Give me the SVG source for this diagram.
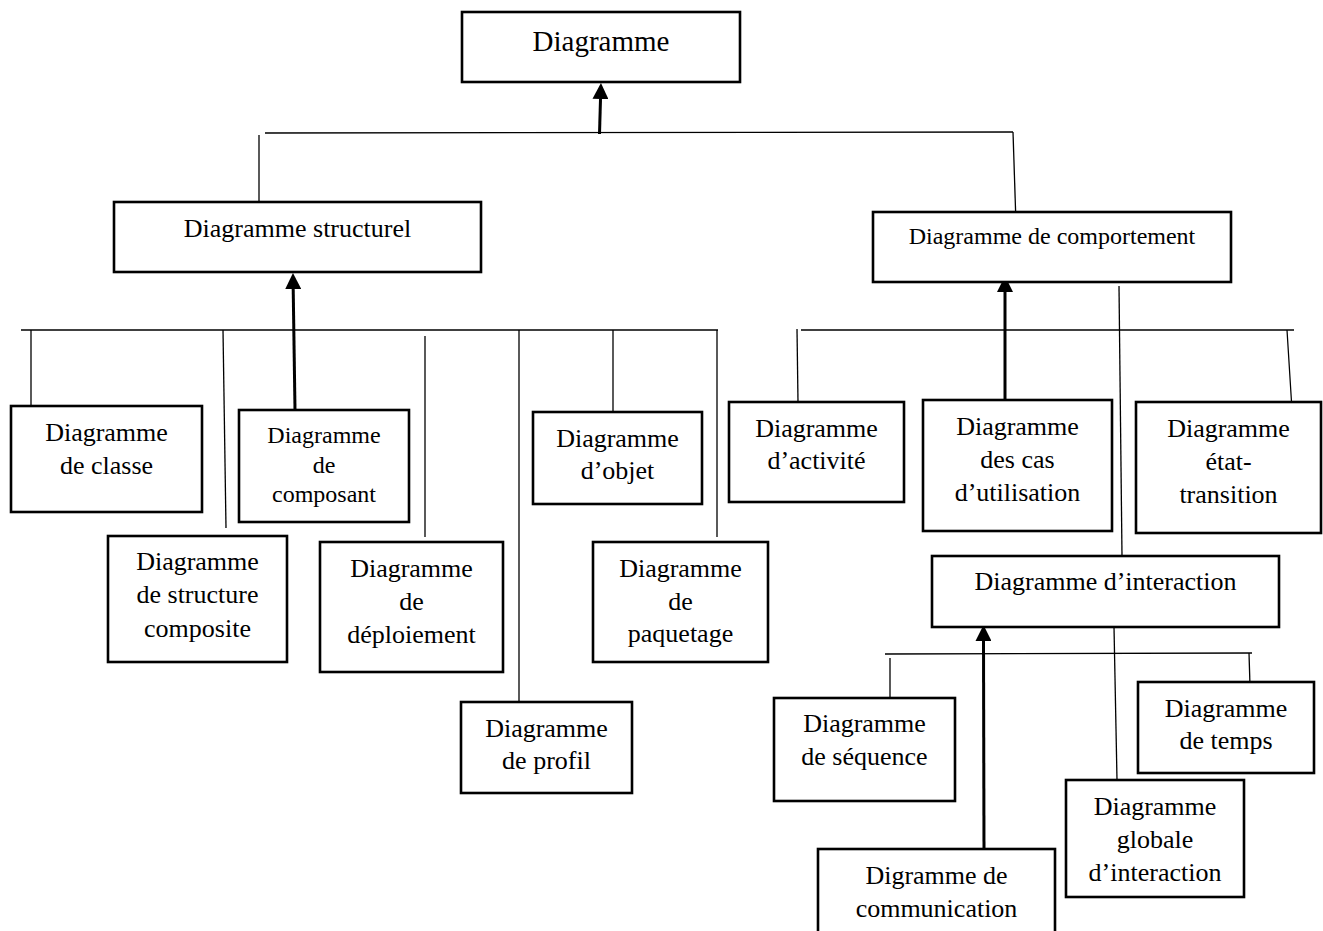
<svg xmlns="http://www.w3.org/2000/svg" width="1323" height="931" viewBox="0 0 1323 931">
  <style>
    .box { fill: #ffffff; stroke: #000000; stroke-width: 2.6; }
    .lbl { font-family: "Liberation Serif", "Times New Roman", serif; font-size: 26px; fill: #000000; text-anchor: middle; }
    .sm { font-size: 24px; }
    .big { font-size: 29px; }
    .wire { fill: none; stroke: #000000; stroke-width: 1.3; }
    .arrow { fill: none; stroke: #000000; stroke-width: 3; marker-end: url(#head); }
  </style>
  <defs>
    <marker id="head" markerUnits="userSpaceOnUse" viewBox="0 0 16 16" markerWidth="16" markerHeight="16" refX="0" refY="8" orient="auto">
      <path d="M0,0 L16,8 L0,16 z" fill="#000000"/>
    </marker>
  </defs>
  <rect width="1323" height="931" fill="#ffffff"/>

  <!-- connectors -->
  <g id="connectors">
    <!-- root level -->
    <line class="wire" x1="265" y1="133" x2="1013" y2="132"/>
    <line class="wire" x1="259" y1="135" x2="259" y2="202"/>
    <line class="wire" x1="1013" y1="132" x2="1016" y2="224"/>
    <line class="arrow" x1="599.5" y1="134" x2="600.5" y2="99"/>

    <!-- structural branch -->
    <line class="wire" x1="21" y1="330" x2="718" y2="330"/>
    <line class="wire" x1="31" y1="330" x2="31" y2="406"/>
    <line class="wire" x1="223" y1="330" x2="226" y2="528"/>
    <line class="wire" x1="425" y1="336" x2="425" y2="537"/>
    <line class="wire" x1="519" y1="330" x2="519" y2="702"/>
    <line class="wire" x1="613" y1="330" x2="613" y2="412"/>
    <line class="wire" x1="717" y1="330" x2="717" y2="537"/>
    <line class="arrow" x1="295" y1="410" x2="293.2" y2="289"/>

    <!-- behavioural branch -->
    <line class="wire" x1="801" y1="330" x2="1294" y2="330"/>
    <line class="wire" x1="797" y1="329" x2="798" y2="402"/>
    <line class="wire" x1="1119" y1="286" x2="1122" y2="556"/>
    <line class="wire" x1="1287" y1="330" x2="1292" y2="410"/>
    <line class="arrow" x1="1005" y1="400" x2="1005" y2="292"/>

    <!-- interaction branch -->
    <line class="wire" x1="885" y1="654" x2="1252" y2="653"/>
    <line class="wire" x1="890" y1="658" x2="890" y2="698"/>
    <line class="wire" x1="1114" y1="627" x2="1117" y2="780"/>
    <line class="wire" x1="1249" y1="653" x2="1250" y2="686"/>
    <line class="arrow" x1="984" y1="855" x2="983.5" y2="641"/>
  </g>

  <g id="n-diagramme">
    <rect class="box" x="462" y="12" width="278" height="70"/>
    <text class="lbl big" x="601" y="51">Diagramme</text>
  </g>

  <g id="n-structurel">
    <rect class="box" x="114" y="202" width="367" height="70"/>
    <text class="lbl" x="297.5" y="237">Diagramme structurel</text>
  </g>

  <g id="n-comportement">
    <rect class="box" x="873" y="212" width="358" height="70"/>
    <text class="lbl sm" x="1052" y="244">Diagramme de comportement</text>
  </g>

  <g id="n-classe">
    <rect class="box" x="11" y="406" width="191" height="106"/>
    <text class="lbl" x="106.5" y="441">Diagramme</text>
    <text class="lbl" x="106.5" y="474">de classe</text>
  </g>

  <g id="n-composant">
    <rect class="box" x="239" y="410" width="170" height="112"/>
    <text class="lbl sm" x="324" y="443">Diagramme</text>
    <text class="lbl sm" x="324" y="473">de</text>
    <text class="lbl sm" x="324" y="502">composant</text>
  </g>

  <g id="n-structure-composite">
    <rect class="box" x="108" y="536" width="179" height="126"/>
    <text class="lbl" x="197.5" y="570">Diagramme</text>
    <text class="lbl" x="197.5" y="603">de structure</text>
    <text class="lbl" x="197.5" y="637">composite</text>
  </g>

  <g id="n-deploiement">
    <rect class="box" x="320" y="542" width="183" height="130"/>
    <text class="lbl" x="411.5" y="577">Diagramme</text>
    <text class="lbl" x="411.5" y="610">de</text>
    <text class="lbl" x="411.5" y="643">déploiement</text>
  </g>

  <g id="n-profil">
    <rect class="box" x="461" y="702" width="171" height="91"/>
    <text class="lbl" x="546.5" y="737">Diagramme</text>
    <text class="lbl" x="546.5" y="769">de profil</text>
  </g>

  <g id="n-objet">
    <rect class="box" x="533" y="412" width="169" height="92"/>
    <text class="lbl" x="617.5" y="447">Diagramme</text>
    <text class="lbl" x="617.5" y="479">d’objet</text>
  </g>

  <g id="n-paquetage">
    <rect class="box" x="593" y="542" width="175" height="120"/>
    <text class="lbl" x="680.5" y="577">Diagramme</text>
    <text class="lbl" x="680.5" y="610">de</text>
    <text class="lbl" x="680.5" y="642">paquetage</text>
  </g>

  <g id="n-activite">
    <rect class="box" x="729" y="402" width="175" height="100"/>
    <text class="lbl" x="816.5" y="437">Diagramme</text>
    <text class="lbl" x="816.5" y="469">d’activité</text>
  </g>

  <g id="n-cas-utilisation">
    <rect class="box" x="923" y="400" width="189" height="131"/>
    <text class="lbl" x="1017.5" y="435">Diagramme</text>
    <text class="lbl" x="1017.5" y="468">des cas</text>
    <text class="lbl" x="1017.5" y="501">d’utilisation</text>
  </g>

  <g id="n-etat-transition">
    <rect class="box" x="1136" y="402" width="185" height="131"/>
    <text class="lbl" x="1228.5" y="437">Diagramme</text>
    <text class="lbl" x="1228.5" y="470">état-</text>
    <text class="lbl" x="1228.5" y="503">transition</text>
  </g>

  <g id="n-interaction">
    <rect class="box" x="932" y="556" width="347" height="71"/>
    <text class="lbl" x="1105.5" y="590">Diagramme d’interaction</text>
  </g>

  <g id="n-sequence">
    <rect class="box" x="774" y="698" width="181" height="103"/>
    <text class="lbl" x="864.5" y="732">Diagramme</text>
    <text class="lbl" x="864.5" y="765">de séquence</text>
  </g>

  <g id="n-communication">
    <rect class="box" x="818" y="849" width="237" height="95"/>
    <text class="lbl" x="936.5" y="884">Digramme de</text>
    <text class="lbl" x="936.5" y="917">communication</text>
  </g>

  <g id="n-globale-interaction">
    <rect class="box" x="1066" y="780" width="178" height="117"/>
    <text class="lbl" x="1155" y="815">Diagramme</text>
    <text class="lbl" x="1155" y="848">globale</text>
    <text class="lbl" x="1155" y="881">d’interaction</text>
  </g>

  <g id="n-temps">
    <rect class="box" x="1138" y="682" width="176" height="91"/>
    <text class="lbl" x="1226" y="717">Diagramme</text>
    <text class="lbl" x="1226" y="749">de temps</text>
  </g>
</svg>
